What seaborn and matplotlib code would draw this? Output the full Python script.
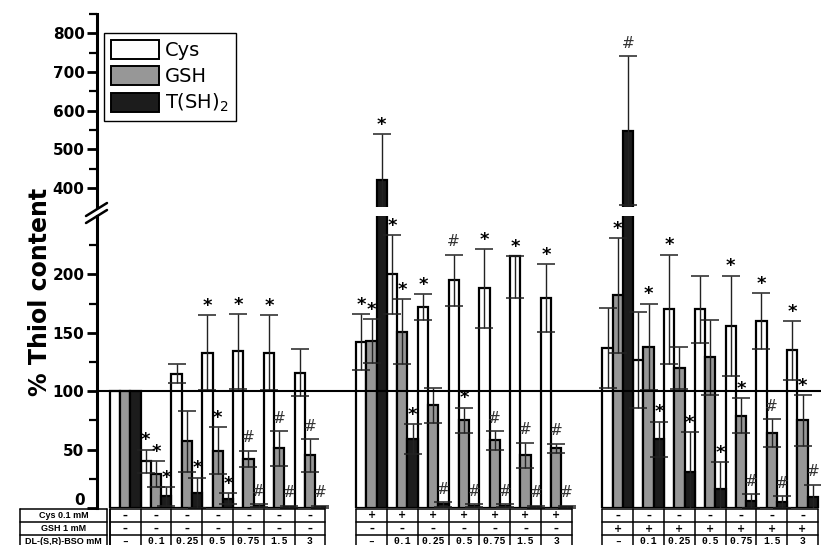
import numpy as np
import pandas as pd
import matplotlib
matplotlib.use("Agg")
import matplotlib.pyplot as plt
from matplotlib.patches import Patch
from matplotlib.lines import Line2D
from matplotlib.container import BarContainer
import seaborn as sns

# ========== DATA (% of control) ==========
series = ["Cys", "GSH", "T(SH)2"]
legend_labels = ["Cys", "GSH", "T(SH)$_2$"]
groups = ["bso", "cys", "gsh"]

# 7 conditions per group: group 1 BSO only, group 2 + Cys 0.1 mM, group 3 + GSH 1 mM
cys_mean = [100, 40, 115, 133, 134, 133, 116,
            142, 200, 172, 195, 188, 216, 180,
            137, 127, 170, 170, 156, 160, 135]
cys_sd = [0, 10, 8, 32, 32, 32, 20,
          24, 34, 11, 22, 34, 36, 29,
          34, 41, 47, 29, 43, 24, 25]
cys_sd_up = [0, 10, 8, 32, 32, 32, 20,
             24, 34, 11, 22, 34, 0, 29,
             34, 41, 47, 29, 43, 24, 25]
gsh_mean = [100, 29, 57, 49, 42, 51, 45,
            143, 151, 88, 75, 58, 45, 51,
            182, 138, 120, 129, 79, 64, 75]
gsh_sd = [0, 11, 26, 20, 7, 15, 14,
          19, 28, 15, 11, 8, 11, 4,
          49, 37, 18, 32, 15, 12, 22]
tsh_mean = [100, 10, 13, 8, 2, 1, 1,
            420, 59, 3, 2, 2, 1, 1,
            548, 59, 31, 16, 6, 5, 9]
tsh_sd = [0, 8, 13, 5, 1, 1, 1,
          119, 13, 2, 1, 1, 1, 1,
          193, 15, 34, 23, 6, 5, 11]

cys_mark = ["", "*", "", "*", "*", "*", "",
            "*", "*", "*", "#", "*", "*", "*",
            "", "", "*", "", "*", "*", "*"]
gsh_mark = ["", "*", "", "*", "#", "#", "#",
            "*", "*", "", "*", "#", "#", "#",
            "*", "*", "", "", "*", "#", "*"]
tsh_mark = ["", "*", "*", "*", "#", "#", "#",
            "*", "*", "#", "#", "#", "#", "#",
            "#", "*", "*", "*", "#", "#", "#"]

# table under the bars
row_labels = ["Cys 0.1 mM", "GSH 1 mM", "DL-(S,R)-BSO mM"]
cys_row = ["–"] * 7 + ["+"] * 7 + ["–"] * 7
gsh_row = ["–"] * 14 + ["+"] * 7
bso_row = ["–", "0.1", "0.25", "0.5", "0.75", "1.5", "3"] * 3

# ========== LONG FORMAT ==========
cond = [f"{g}_{i}" for g in groups for i in range(7)]
order = cond[:7] + ["gap1"] + cond[7:14] + ["gap2"] + cond[14:]
df = pd.DataFrame({
    "cond": cond * 3,
    "series": np.repeat(series, 21),
    "value": cys_mean + gsh_mean + tsh_mean,
})

# ========== FIGURE ==========
sns.set_style("ticks", {"axes.edgecolor": "black", "xtick.color": "black",
                        "ytick.color": "black", "text.color": "black",
                        "axes.labelcolor": "black"})
plt.rcParams["font.family"] = ["DejaVu Sans"]
W, H = 821, 545
fig = plt.figure(figsize=(W / 100, H / 100), dpi=100)


def px_axes(x0, y0, x1, y1):
    return fig.add_axes([x0 / W, 1 - y1 / H, (x1 - x0) / W, (y1 - y0) / H])


ax_top = px_axes(97, 13.6, 821, 207.4)
ax_bot = px_axes(97, 216, 821, 508)
ax_tab = px_axes(97, 509, 821, 548)

colors = ["#ffffff", "#979797", "#1c1c1c"]
means = [cys_mean, gsh_mean, tsh_mean]
err_lo = [cys_sd, gsh_sd, tsh_sd]
err_hi = [cys_sd_up, gsh_sd, tsh_sd]
marks = [cys_mark, gsh_mark, tsh_mark]
XL = (-0.92, 22.6)

for ax, ylim in ((ax_top, (350, 851)), (ax_bot, (0, 250))):
    sns.barplot(data=df, x="cond", y="value", hue="series", order=order,
                hue_order=series, palette=colors, saturation=1, width=1.0,
                edgecolor="black", linewidth=1.6, legend=False, errorbar=None,
                ax=ax, zorder=2)
    bars = [c for c in ax.containers if isinstance(c, BarContainer)]
    for k, cont in enumerate(bars):
        xs = [b.get_x() + b.get_width() / 2 for b in cont]
        ax.errorbar(xs, means[k], yerr=[err_lo[k], err_hi[k]], fmt="none",
                    ecolor="#222222", elinewidth=1.0, capsize=6.5,
                    capthick=1.1, zorder=3)
        for x, m, e, s in zip(xs, means[k], err_hi[k], marks[k]):
            top = m + e
            if not s or not (ylim[0] < top < ylim[1]):
                continue
            if s == "*":
                ax.annotate(s, (x, top), xytext=(0, 3), textcoords="offset points",
                            ha="center", va="baseline", fontsize=13,
                            fontweight="bold", color="black", zorder=5)
            else:
                ax.annotate(s, (x, top), xytext=(0, 6), textcoords="offset points",
                            ha="center", va="baseline", fontsize=11,
                            color="#333333", zorder=5)
    ax.set_ylim(*ylim)
    ax.set_xlim(*XL)
    ax.set_xticks([])
    ax.set_xlabel("")
    ax.set_ylabel("")
    for side in ("top", "right", "bottom"):
        ax.spines[side].set_visible(False)
    ax.spines["left"].set_linewidth(2.2)
    ax.tick_params(axis="y", which="major", length=7, width=2, labelsize=11, pad=2)
    ax.tick_params(axis="y", which="minor", length=6, width=1.6)
    ax.patch.set_alpha(0)

ax_bot.set_yticks([0, 50, 100, 150, 200])
ax_bot.set_yticks([25, 75, 125, 175, 225], minor=True)
ax_top.set_yticks([400, 500, 600, 700, 800])
ax_top.set_yticks([450, 550, 650, 750, 850], minor=True)
for ax in (ax_top, ax_bot):
    for lab in ax.get_yticklabels():
        lab.set_fontweight("bold")
# the "0" sits just above the table, as in the original
ax_bot.get_yticklabels()[0].set_va("bottom")

ax_bot.axhline(100, color="black", lw=1.5, zorder=4)

# axis break marks
for dy in (0, 7):
    fig.add_artist(Line2D([86 / W, 107 / W], [1 - (216 + dy) / H, 1 - (203 + dy) / H],
                          color="black", lw=1.8))

# legend
handles = [Patch(facecolor=c, edgecolor="black", linewidth=1.4) for c in colors]
leg = ax_top.legend(handles, legend_labels, loc="upper left",
                    bbox_to_anchor=(0.0097, 0.9), borderaxespad=0, fontsize=14,
                    handlelength=2.5, handleheight=1.15, labelspacing=0.3,
                    handletextpad=0.3, borderpad=0.35, fancybox=False,
                    framealpha=1)
leg.get_frame().set_edgecolor("black")
leg.get_frame().set_linewidth(1.0)

fig.text(40 / W, 1 - 292 / H, "% Thiol content", rotation=90, ha="center",
         va="center", fontsize=17, fontweight="bold")

# ========== TABLE ==========
ax_tab.set_xlim(*XL)
ax_tab.set_ylim(3, 0)
ax_tab.axis("off")
lw = 1.1
lab_x0, lab_x1 = -3.42, -0.6
for y in range(4):
    ax_tab.plot([lab_x0, lab_x1], [y, y], color="black", lw=lw, clip_on=False)
for x in (lab_x0, lab_x1, -0.5):
    ax_tab.plot([x, x], [0, 3], color="black", lw=lw, clip_on=False)
for r, t in enumerate(row_labels):
    ax_tab.text((lab_x0 + lab_x1) / 2, r + 0.5, t, ha="center", va="center",
                fontsize=6.5, fontweight="bold", family="Liberation Sans",
                clip_on=False)
for start in (-0.5, 7.5, 15.5):
    for y in range(4):
        ax_tab.plot([start, start + 7], [y, y], color="black", lw=lw, clip_on=False)
    for j in range(8):
        ax_tab.plot([start + j, start + j], [0, 3], color="black", lw=lw, clip_on=False)
for i in range(21):
    pos = (i // 7) * 8 + i % 7
    ax_tab.text(pos, 0.5, cys_row[i], ha="center", va="center", fontsize=7,
                fontweight="bold", clip_on=False)
    ax_tab.text(pos, 1.5, gsh_row[i], ha="center", va="center", fontsize=7,
                fontweight="bold", clip_on=False)
    ax_tab.text(pos, 2.5, bso_row[i], ha="center", va="center", fontsize=7,
                fontweight="bold", family="Liberation Mono", clip_on=False)

fig.savefig("out.png", dpi=100)
